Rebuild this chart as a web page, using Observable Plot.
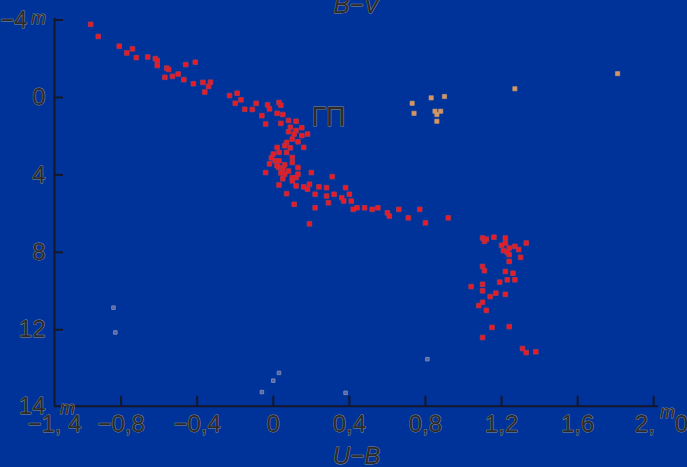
<!DOCTYPE html>
<html><head><meta charset="utf-8">
<script src="https://cdn.jsdelivr.net/npm/d3@7"></script>
<script src="https://cdn.jsdelivr.net/npm/@observablehq/plot@0.6"></script>
<style>
html,body{margin:0;padding:0;background:#003399;overflow:hidden;}
</style></head><body><div id="chart"></div>
<script>
// Main sequence (red): U−B and M values
const msUB = [-0.96,-0.92,-0.81,-0.77,-0.74,-0.72,-0.66,-0.62,-0.61,-0.61,-0.56,-0.55,-0.57,-0.53,-0.50,-0.47,-0.46,-0.41,-0.42,-0.37,-0.33,-0.34,-0.36,-0.23,-0.19,-0.20,-0.17,-0.15,-0.11,-0.09,-0.03,-0.02,0.03,0.04,-0.06,-0.04,0.02,0.05,0.08,0.04,0.12,0.09,0.12,0.11,0.18,0.15,0.10,0.07,0.06,0.02,0.16,0.00,0.03,0.07,0.10,0.01,0.03,0.05,0.13,0.10,-0.04,0.06,0.10,0.12,0.13,0.20,0.10,0.03,0.12,0.16,0.19,0.31,0.24,0.28,0.38,0.18,0.22,0.07,0.28,0.32,0.29,0.36,0.40,0.37,0.41,0.44,0.48,0.52,0.55,0.60,0.61,0.66,0.71,0.77,0.80,0.92,0.11,0.22,0.19,0.42,0.03,0.06,0.04,0.09,0.13,0.08,0.15,-0.01,0.02,0.05,0.08,-0.02];
const msM  = [-3.78,-3.15,-2.65,-2.30,-2.51,-2.06,-2.09,-2.01,-1.91,-1.65,-1.52,-1.45,-1.04,-1.09,-1.21,-0.92,-1.70,-1.82,-0.71,-0.78,-0.79,-0.57,-0.28,-0.10,-0.22,0.30,0.12,0.61,0.62,0.30,0.38,0.59,0.26,0.40,0.94,1.37,0.82,0.88,1.19,1.34,1.23,1.54,1.71,1.89,1.89,1.97,2.15,2.32,2.49,2.58,2.58,2.92,2.84,2.84,3.10,3.27,3.62,3.70,3.62,3.36,3.88,3.96,4.14,4.14,3.96,3.88,4.31,4.52,4.57,4.62,4.48,4.09,4.62,4.66,4.66,4.74,5.00,4.97,5.09,5.00,5.44,5.18,5.00,5.35,5.35,5.70,5.70,5.78,5.70,5.96,6.13,5.78,6.22,5.78,6.48,6.22,5.52,5.70,6.53,5.78,3.27,3.48,3.90,2.60,2.29,1.77,1.56,3.12,3.53,4.20,3.80,3.43];
// Giants (red)
const gUB = [1.10,1.11,1.16,1.22,1.22,1.24,1.21,1.24,1.27,1.29,1.33,1.30,1.24,1.10,1.11,1.22,1.26,1.23,1.27,1.19,1.10,1.04,1.10,1.17,1.14,1.22,1.10,1.08,1.12,1.15,1.24,1.10,1.31,1.33,1.38,1.20,1.23,1.12];
const gM  = [7.26,7.43,7.22,7.26,7.52,7.78,7.91,8.12,7.69,7.86,7.52,8.26,8.47,8.73,8.95,8.99,9.08,9.42,9.42,9.54,9.65,9.77,9.99,10.11,10.29,10.17,10.58,10.75,11.00,11.88,11.84,12.40,12.97,13.18,13.14,7.64,8.00,7.32];
// Orange stars
const oUB = [0.73,0.83,0.90,0.74,0.85,0.86,0.88,0.86,1.27,1.81];
const oM  = [0.30,0.02,-0.05,0.82,0.71,0.88,0.71,1.23,-0.45,-1.23];
// Faint (grey-blue) stars
const fUB = [-0.84,-0.83,-0.06,0.00,0.03,0.38,0.81];
const fM  = [10.86,12.14,15.22,14.63,14.23,15.26,13.52];

// Axes
const xTickVals = [-0.8,-0.4,0,0.4,0.8,1.2,1.6,2.0];
const xLabelVals = [-1.15,-0.8,-0.4,0,0.4,0.8,1.2,1.6];
const xLabels = ["\u22121,\u00a04","\u22120,8","\u22120,4","0","0,4","0,8","1,2","1,6"];
const xLastLabel = "2,\u00a0\u00a0\u00a00";
const yTickVals = [-4,0,4,8,12];
const yLabelVals = [-4,0,4,8,12,15.95];
const yLabels = ["\u22124\u00a0\u00a0\u2009","0","4","8","12","14"];
const annot = [{x: 0.29, y: 1.03, text: "\u0413\u041f"}];

const xDomain = [-1.15, 2.025];
const yDomain = [-4.08, 15.95];
const axisColor = "#14172a";
const txt = {fill: "#2b2b2b", stroke: "#8e8e8e", strokeWidth: 0.9, paintOrder: "stroke", fontFamily: "Liberation Sans, Arial, sans-serif"};
const sup = {fontSize: 18, fontStyle: "italic", textAnchor: "middle", ...txt};

const toRows = (xs, ys) => xs.map((x, i) => ({x, y: ys[i]}));
const red = toRows(msUB, msM).concat(toRows(gUB, gM));
const orange = toRows(oUB, oM);
const faint = toRows(fUB, fM);

const plot = Plot.plot({
  width: 687, height: 467,
  marginLeft: 54, marginRight: 29, marginTop: 18, marginBottom: 61.3,
  style: {background: "#003399", overflow: "visible"},
  x: {domain: xDomain, axis: null},
  y: {domain: yDomain, reverse: true, axis: null},
  marks: [
    Plot.ruleX([xDomain[0]], {stroke: axisColor, strokeWidth: 2}),
    Plot.ruleY([yDomain[1]], {stroke: axisColor, strokeWidth: 2}),
    Plot.axisX(xTickVals, {anchor: "bottom", tickSize: -10, fill: "none", stroke: axisColor, strokeWidth: 2, label: null}),
    Plot.axisY(yTickVals, {anchor: "left", tickSize: -9, fill: "none", stroke: axisColor, strokeWidth: 2, label: null}),
    Plot.dot(faint, {x: "x", y: "y", symbol: "square", r: 2, fill: "#5566a6", stroke: "#8a93b8", strokeWidth: 0.8}),
    Plot.dot(orange, {x: "x", y: "y", symbol: "square", r: 2.4, fill: "#d9955c", stroke: "#bf9a7a", strokeWidth: 0.6}),
    Plot.dot(red, {x: "x", y: "y", symbol: "square", r: 2.6, fill: "#f01820", stroke: "#a83a50", strokeWidth: 0.8}),
    Plot.text(xLabelVals, {x: d => d, text: (d, i) => xLabels[i], frameAnchor: "bottom", dy: 26, fontSize: 24, ...txt}),
    Plot.text([xLastLabel], {frameAnchor: "bottom-right", textAnchor: "middle", dx: 3, dy: 26, fontSize: 24, ...txt}),
    Plot.text(yLabelVals, {y: d => d, text: (d, i) => yLabels[i], frameAnchor: "left", dx: -9, textAnchor: "end", fontSize: 24, ...txt}),
    Plot.text(["m"], {frameAnchor: "top-left", dx: -16, dy: -7, ...sup}),
    Plot.text(["m"], {frameAnchor: "bottom-left", dx: 13, dy: 8, ...sup}),
    Plot.text(["m"], {frameAnchor: "bottom-right", dx: 9, dy: 12, ...sup}),
    Plot.text(["B\u2212V"], {frameAnchor: "top", textAnchor: "middle", dy: -6, lineAnchor: "bottom", fontSize: 24, fontStyle: "italic", ...txt}),
    Plot.text(["U\u2212B"], {frameAnchor: "bottom", textAnchor: "middle", dy: 58, lineAnchor: "bottom", fontSize: 24, fontStyle: "italic", ...txt}),
    Plot.text(annot, {x: "x", y: "y", text: "text", fontSize: 27, ...txt})
  ]
});
document.getElementById("chart").appendChild(plot);
</script>
</body></html>
